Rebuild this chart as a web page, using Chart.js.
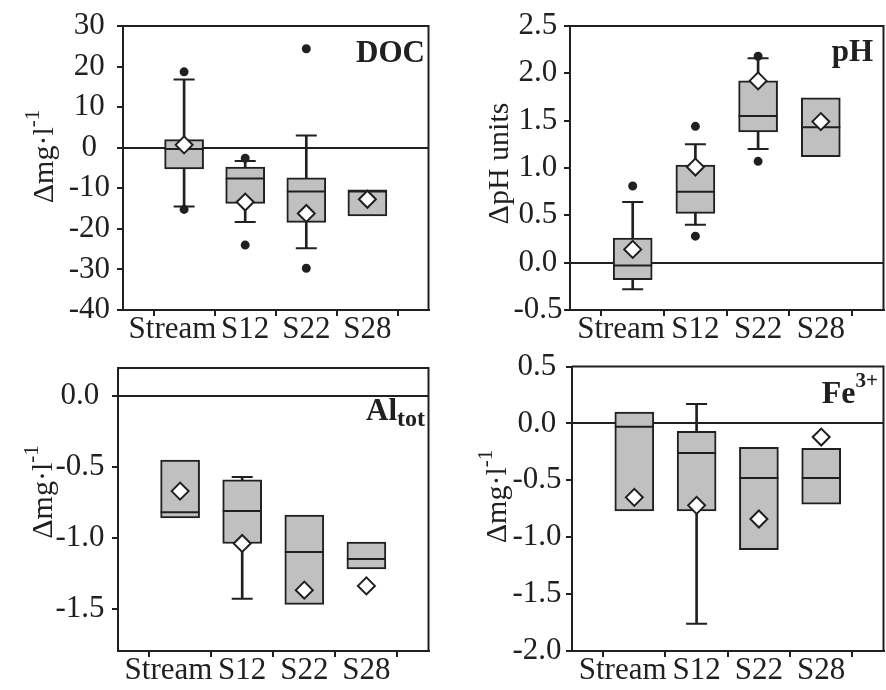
<!DOCTYPE html>
<html>
<head>
<meta charset="utf-8">
<script src="https://cdn.jsdelivr.net/npm/chart.js@4.4.0/dist/chart.umd.min.js"></script>
<style>
  html, body { margin: 0; padding: 0; background: #fff; overflow: hidden; }
  body { width: 886px; height: 690px; position: relative; }
  canvas { position: absolute; }
</style>
</head>
<body>
<canvas id="docChart" width="450" height="345" style="left:0px;top:0px"></canvas>
<canvas id="phChart" width="460" height="345" style="left:445px;top:0px"></canvas>
<canvas id="alChart" width="450" height="345" style="left:0px;top:345px"></canvas>
<canvas id="feChart" width="460" height="345" style="left:445px;top:345px"></canvas>
<script>
const sites = ['Stream', 'S12', 'S22', 'S28']

// DOC, change in mg/l
const docQ1 = [-5.2, -13.7, -18.4, -16.8]
const docQ3 = [2.0, -4.8, -7.4, -10.4]
const docMedian = [-0.3, -7.6, -10.8, -10.8]
const docMean = [0.7, -13.4, -16.2, -12.7]
const docWhiskerLow = [-14.5, -18.3, -24.8, null]
const docWhiskerHigh = [16.8, -3.3, 3.0, null]
const docOutHigh = [18.7, -2.6, 24.4, null]
const docOutLow = [-15.2, -24.0, -29.7, null]
const docTicks = [30, 20, 10, 0, -10, -20, -30, -40]

// pH, change in pH units
const phQ1 = [-0.18, 0.52, 1.38, 1.12]
const phQ3 = [0.26, 1.03, 1.92, 1.74]
const phMedian = [-0.03, 0.75, 1.55, 1.43]
const phMean = [0.14, 1.01, 1.92, 1.49]
const phWhiskerLow = [-0.28, 0.40, 1.20, null]
const phWhiskerHigh = [0.64, 1.25, 2.16, null]
const phOutHigh = [0.81, 1.44, 2.18, null]
const phOutLow = [null, 0.28, 1.07, null]
const phTicks = [2.5, 2.0, 1.5, 1.0, 0.5, 0.0, -0.5]

// total aluminium, change in mg/l
const alQ1 = [-0.86, -1.04, -1.47, -1.22]
const alQ3 = [-0.45, -0.59, -0.84, -1.03]
const alMedian = [-0.82, -0.81, -1.10, -1.15]
const alMean = [-0.67, -1.04, -1.37, -1.34]
const alWhiskerLow = [null, -1.43, null, null]
const alWhiskerHigh = [null, -0.57, null, null]
const alTicks = [0.0, -0.5, -1.0, -1.5]

// Fe3+, change in mg/l
const feQ1 = [-0.77, -0.77, -1.11, -0.71]
const feQ3 = [0.10, -0.07, -0.21, -0.22]
const feMedian = [-0.03, -0.26, -0.48, -0.48]
const feMean = [-0.65, -0.72, -0.84, -0.12]
const feWhiskerLow = [null, -1.76, null, null]
const feWhiskerHigh = [null, 0.17, null, null]
const feTicks = [0.5, 0.0, -0.5, -1.0, -1.5, -2.0]

const none = [null, null, null, null]

const ink = '#202020'
const boxFill = '#c0c0c0'
const serif = "'Liberation Serif', 'Times New Roman', serif"
const stroke = 2

// empty slots at both ends so the axis runs one step past the first and last site
const xLabels = ['', ...sites, '']
const pad = arr => [null, ...arr, null]

// top and right edges of the plot frame
const frame = {
  id: 'frame',
  beforeDatasetsDraw(chart) {
    const { ctx, chartArea: a } = chart
    ctx.save()
    ctx.strokeStyle = ink
    ctx.lineWidth = stroke
    ctx.beginPath()
    ctx.moveTo(a.left, a.top)
    ctx.lineTo(a.right, a.top)
    ctx.lineTo(a.right, a.bottom)
    ctx.stroke()
    ctx.restore()
  }
}

function drawParts(ctx, parts, x, y, align) {
  let total = 0
  const widths = parts.map(p => {
    ctx.font = (p.bold ? 'bold ' : '') + p.size + 'px ' + serif
    const w = ctx.measureText(p.text).width
    total += w
    return w
  })
  let cx = align === 'right' ? x - total : align === 'center' ? x - total / 2 : x
  parts.forEach((p, i) => {
    ctx.font = (p.bold ? 'bold ' : '') + p.size + 'px ' + serif
    ctx.fillText(p.text, cx, y - (p.rise || 0))
    cx += widths[i]
  })
}

// rotated y title and the bold panel name, both with sub/superscripts
function panelText(title, titleAt, label, labelAt) {
  return {
    id: 'panelText',
    afterDraw(chart) {
      const ctx = chart.ctx
      ctx.save()
      ctx.fillStyle = ink
      ctx.textBaseline = 'alphabetic'
      ctx.translate(titleAt[0], titleAt[1])
      ctx.rotate(-Math.PI / 2)
      drawParts(ctx, title, 0, 0, 'center')
      ctx.restore()
      ctx.save()
      ctx.fillStyle = ink
      ctx.textBaseline = 'alphabetic'
      drawParts(ctx, label, labelAt[0], labelAt[1], 'right')
      ctx.restore()
    }
  }
}

const pts = (values, style, radius, fill, order) => ({
  type: 'line',
  data: pad(values),
  showLine: false,
  pointStyle: style,
  pointRadius: radius,
  pointHoverRadius: radius,
  pointBackgroundColor: fill,
  pointBorderColor: ink,
  pointBorderWidth: stroke,
  order: order
})

function boxChart(id, d) {
  const canvas = document.getElementById(id)
  const w = canvas.width, h = canvas.height
  const area = d.area
  const tickFont = { family: serif, size: 31, lineHeight: 1 }

  const datasets = [
    {
      type: 'bar',
      data: pad(d.wLow.map((v, i) => v === null ? null : [v, d.wHigh[i]])),
      backgroundColor: ink,
      borderWidth: 0,
      barThickness: stroke,
      grouped: false,
      order: 4
    },
    {
      type: 'bar',
      data: pad(d.q1.map((v, i) => [v, d.q3[i]])),
      backgroundColor: boxFill,
      borderColor: ink,
      borderWidth: stroke,
      borderSkipped: false,
      barThickness: 39,
      grouped: false,
      order: 3
    },
    pts(d.median, 'line', 19.5, ink, 2),
    pts(d.wHigh, 'line', 10.5, ink, 2),
    pts(d.wLow, 'line', 10.5, ink, 2),
    pts(d.outHigh, 'circle', 3.5, ink, 1),
    pts(d.outLow, 'circle', 3.5, ink, 1),
    pts(d.mean, 'rectRot', 8.5, '#fff', 0)
  ]

  return new Chart(canvas, {
    type: 'bar',
    data: { labels: xLabels, datasets: datasets },
    options: {
      responsive: false,
      animation: false,
      events: [],
      layout: { padding: { top: area[1], right: w - area[2], left: 0, bottom: 0 } },
      plugins: { legend: { display: false }, tooltip: { enabled: false } },
      scales: {
        x: {
          type: 'category',
          offset: false,
          afterFit: s => { s.height = h - area[3] },
          ticks: {
            font: tickFont,
            color: ink,
            padding: -2,
            autoSkip: false,
            maxRotation: 0,
            // nudge the first name left so it clears the next one
            callback: (v, i) => i === 1 ? xLabels[i] + '   ' : xLabels[i]
          },
          grid: { drawOnChartArea: false, tickColor: ink, tickLength: 6, lineWidth: stroke },
          border: { color: ink, width: stroke }
        },
        y: {
          type: 'linear',
          min: d.min,
          max: d.max,
          afterBuildTicks: s => { s.ticks = d.ticks.map(v => ({ value: v })) },
          afterFit: s => { s.width = area[0] },
          ticks: {
            font: tickFont,
            color: ink,
            padding: d.tickPad,
            crossAlign: 'center',
            callback: v => d.fmt(v)
          },
          grid: {
            color: c => c.tick && c.tick.value === 0 ? ink : 'rgba(0,0,0,0)',
            tickColor: ink,
            tickLength: 6,
            lineWidth: stroke
          },
          border: { color: ink, width: stroke }
        }
      }
    },
    plugins: [frame, panelText(d.title, d.titleAt, d.label, d.labelAt)]
  })
}

const unitTitle = [{ text: 'Δmg·l', size: 30 }, { text: '-1', size: 21, rise: 14 }]
const oneDecimal = v => v.toFixed(1)

boxChart('docChart', {
  q1: docQ1, q3: docQ3, median: docMedian, mean: docMean,
  wLow: docWhiskerLow, wHigh: docWhiskerHigh, outHigh: docOutHigh, outLow: docOutLow,
  min: -40, max: 30, ticks: docTicks, fmt: v => String(v), tickPad: 7,
  area: [123, 26, 441, 310],
  title: unitTitle, titleAt: [53, 156.5],
  label: [{ text: 'DOC', size: 31, bold: true }], labelAt: [425, 62]
})

boxChart('phChart', {
  q1: phQ1, q3: phQ3, median: phMedian, mean: phMean,
  wLow: phWhiskerLow, wHigh: phWhiskerHigh, outHigh: phOutHigh, outLow: phOutLow,
  min: -0.5, max: 2.5, ticks: phTicks, fmt: oneDecimal, tickPad: 1.5,
  area: [125, 26, 442.5, 310],
  title: [{ text: 'ΔpH units', size: 30 }], titleAt: [63, 163.5],
  label: [{ text: 'pH', size: 31, bold: true }], labelAt: [428, 61]
})

boxChart('alChart', {
  q1: alQ1, q3: alQ3, median: alMedian, mean: alMean,
  wLow: alWhiskerLow, wHigh: alWhiskerHigh, outHigh: none, outLow: none,
  min: -1.8, max: 0.2, ticks: alTicks, fmt: oneDecimal, tickPad: 7.5,
  area: [118, 21, 437, 306],
  title: unitTitle, titleAt: [52, 147],
  label: [{ text: 'Al', size: 31, bold: true }, { text: 'tot', size: 24, bold: true, rise: -6 }], labelAt: [425, 75]
})

boxChart('feChart', {
  q1: feQ1, q3: feQ3, median: feMedian, mean: feMean,
  wLow: feWhiskerLow, wHigh: feWhiskerHigh, outHigh: none, outLow: none,
  min: -2.0, max: 0.5, ticks: feTicks, fmt: oneDecimal, tickPad: 4.5,
  area: [127, 21, 445, 306],
  title: unitTitle, titleAt: [61, 151.5],
  label: [{ text: 'Fe', size: 32, bold: true }, { text: '3+', size: 21, bold: true, rise: 16 }], labelAt: [433, 58]
})
</script>
</body>
</html>
